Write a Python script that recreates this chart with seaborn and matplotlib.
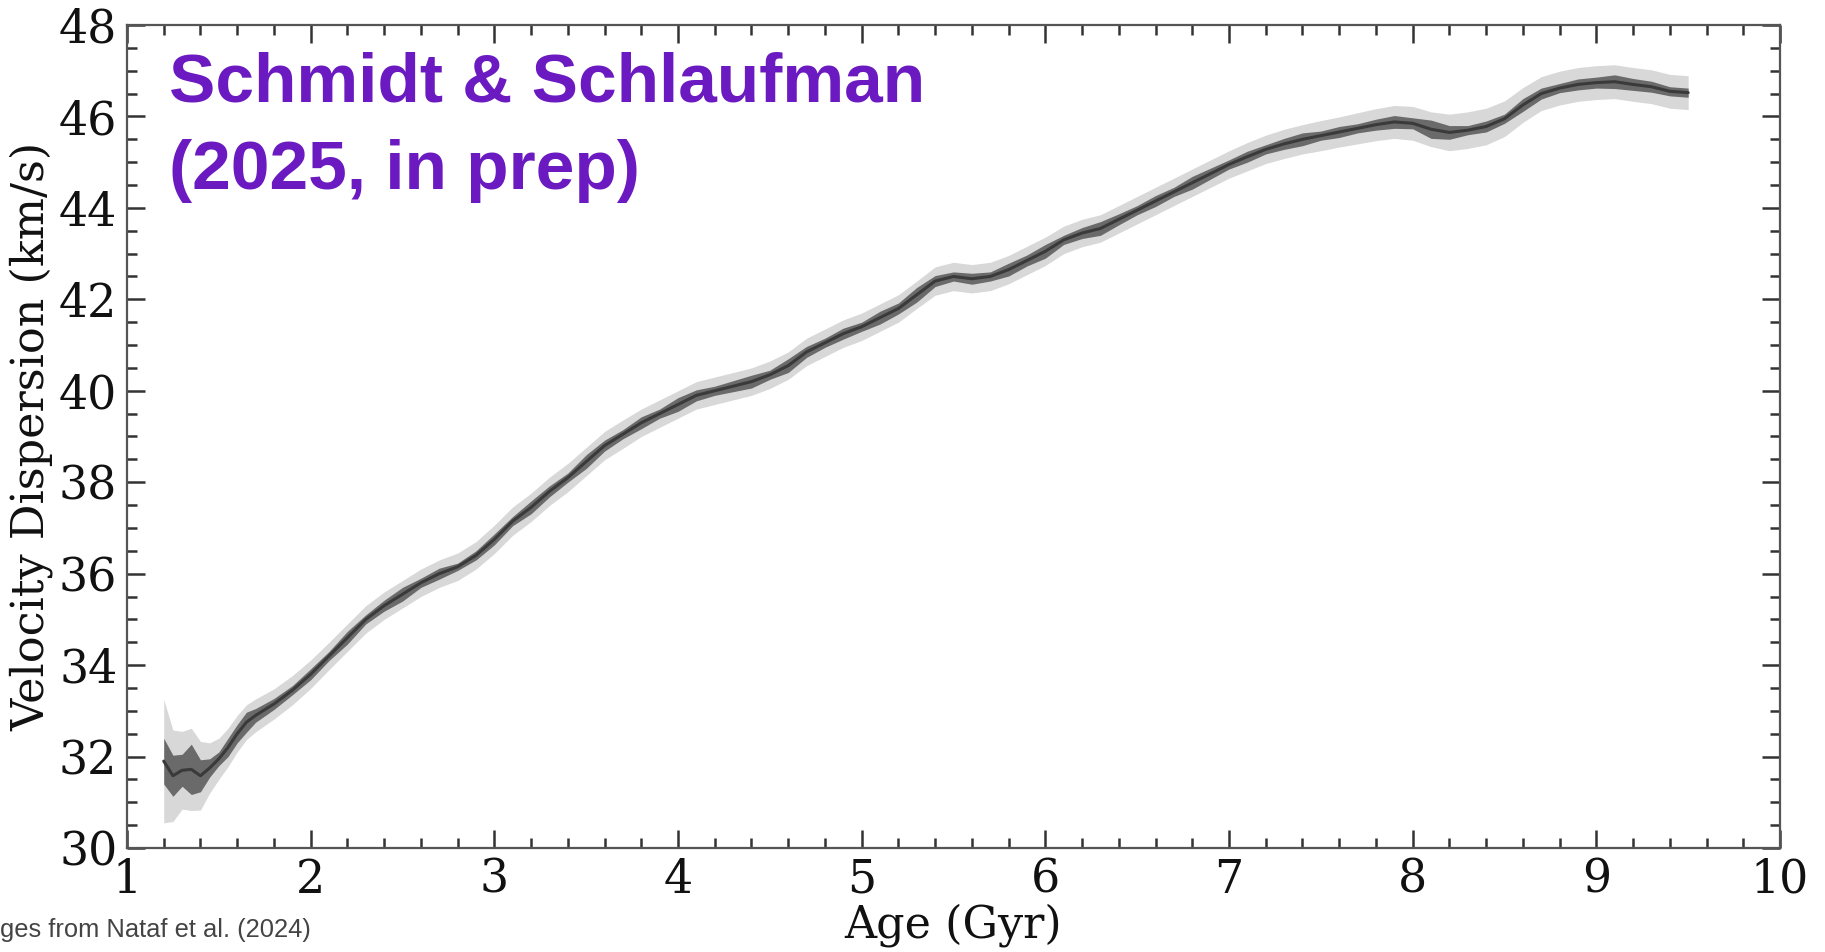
import numpy as np
import matplotlib
matplotlib.use("Agg")
import matplotlib.pyplot as plt
from matplotlib.ticker import MultipleLocator
import seaborn as sns

# ---------------- data ----------------
ages = [1.2, 1.25, 1.3, 1.35, 1.4, 1.45, 1.5, 1.55, 1.6, 1.65,
        1.7, 1.8, 1.9, 2.0, 2.1, 2.2, 2.3, 2.4, 2.5, 2.6,
        2.7, 2.8, 2.9, 3.0, 3.1, 3.2, 3.3, 3.4, 3.5, 3.6,
        3.7, 3.8, 3.9, 4.0, 4.1, 4.2, 4.3, 4.4, 4.5, 4.6,
        4.7, 4.8, 4.9, 5.0, 5.1, 5.2, 5.3, 5.4, 5.5, 5.6,
        5.7, 5.8, 5.9, 6.0, 6.1, 6.2, 6.3, 6.4, 6.5, 6.6,
        6.7, 6.8, 6.9, 7.0, 7.1, 7.2, 7.3, 7.4, 7.5, 7.6,
        7.7, 7.8, 7.9, 8.0, 8.1, 8.2, 8.3, 8.4, 8.5, 8.6,
        8.7, 8.8, 8.9, 9.0, 9.1, 9.2, 9.3, 9.4, 9.5]

velocity = [31.9, 31.58, 31.7, 31.72, 31.58, 31.75, 31.95, 32.2, 32.5, 32.75,
            32.9, 33.15, 33.45, 33.8, 34.2, 34.6, 35.0, 35.3, 35.55, 35.8,
            36.0, 36.15, 36.4, 36.75, 37.15, 37.45, 37.8, 38.1, 38.45, 38.8,
            39.05, 39.3, 39.5, 39.7, 39.9, 40.0, 40.1, 40.2, 40.35, 40.55,
            40.85, 41.05, 41.25, 41.4, 41.6, 41.8, 42.1, 42.4, 42.5, 42.45,
            42.5, 42.65, 42.85, 43.05, 43.3, 43.45, 43.55, 43.75, 43.95, 44.15,
            44.35, 44.55, 44.75, 44.95, 45.12, 45.28, 45.4, 45.5, 45.58, 45.66,
            45.74, 45.82, 45.88, 45.85, 45.72, 45.65, 45.7, 45.78, 45.95, 46.25,
            46.5, 46.62, 46.7, 46.74, 46.76, 46.7, 46.65, 46.55, 46.52]

dark_err = [0.5, 0.45, 0.35, 0.55, 0.35, 0.2, 0.15, 0.2, 0.2, 0.22,
            0.15, 0.12, 0.1, 0.12, 0.1, 0.14, 0.1, 0.12, 0.15, 0.1,
            0.12, 0.08, 0.1, 0.12, 0.1, 0.14, 0.12, 0.1, 0.15, 0.12,
            0.1, 0.13, 0.1, 0.15, 0.12, 0.1, 0.12, 0.14, 0.1, 0.15,
            0.12, 0.1, 0.12, 0.1, 0.14, 0.12, 0.16, 0.12, 0.1, 0.12,
            0.1, 0.14, 0.12, 0.15, 0.1, 0.12, 0.15, 0.12, 0.1, 0.12,
            0.1, 0.14, 0.12, 0.1, 0.12, 0.1, 0.12, 0.14, 0.1, 0.12,
            0.1, 0.12, 0.14, 0.12, 0.2, 0.15, 0.1, 0.12, 0.1, 0.14,
            0.12, 0.1, 0.12, 0.12, 0.15, 0.13, 0.12, 0.1, 0.1]

light_err = [1.35, 1.0, 0.85, 0.9, 0.75, 0.55, 0.45, 0.42, 0.4, 0.38,
             0.36, 0.33, 0.32, 0.31, 0.3, 0.3, 0.3, 0.3, 0.3, 0.3,
             0.3, 0.3, 0.3, 0.31, 0.31, 0.31, 0.31, 0.31, 0.31, 0.31,
             0.31, 0.3, 0.3, 0.3, 0.3, 0.3, 0.3, 0.3, 0.3, 0.3,
             0.3, 0.3, 0.3, 0.3, 0.3, 0.3, 0.3, 0.31, 0.31, 0.31,
             0.31, 0.31, 0.31, 0.31, 0.3, 0.3, 0.3, 0.3, 0.3, 0.3,
             0.3, 0.3, 0.3, 0.3, 0.31, 0.31, 0.32, 0.32, 0.33, 0.33,
             0.34, 0.35, 0.36, 0.37, 0.38, 0.4, 0.4, 0.4, 0.39, 0.38,
             0.37, 0.37, 0.37, 0.37, 0.37, 0.37, 0.37, 0.37, 0.37]

x_ticks = [1, 2, 3, 4, 5, 6, 7, 8, 9, 10]
y_ticks = [30, 32, 34, 36, 38, 40, 42, 44, 46, 48]

title_lines = ["Schmidt & Schlaufman", "(2025, in prep)"]
caption = "ges from Nataf et al. (2024)"
x_label = "Age (Gyr)"
y_label = "Velocity Dispersion (km/s)"

# ---------------- plot ----------------
sns.set_style("ticks")
plt.rcParams["font.family"] = ["DejaVu Serif", "DejaVu Sans"]

W, H = 1825, 952
fig = plt.figure(figsize=(W / 100, H / 100), dpi=100)
left, right, top, bottom = 127, 1780, 25, 848
ax = fig.add_axes([left / W, 1 - bottom / H, (right - left) / W, (bottom - top) / H])

a = np.array(ages)
v = np.array(velocity)
de = np.array(dark_err)
le = np.array(light_err)

ax.fill_between(a, v - le, v + le, color="#d8d8d8", lw=0, zorder=1)
ax.fill_between(a, v - de, v + de, color="#6a6a6a", lw=0, zorder=2)
sns.lineplot(x=a, y=v, ax=ax, color="#3a3a3a", lw=2.2, zorder=3)

ax.set_xlim(1, 10)
ax.set_ylim(30, 48)
ax.set_xticks(x_ticks)
ax.set_yticks(y_ticks)
ax.xaxis.set_minor_locator(MultipleLocator(0.2))
ax.yaxis.set_minor_locator(MultipleLocator(0.5))
ax.tick_params(which="both", direction="in", top=True, right=True,
               color="#333333", width=1.8, labelsize=33, labelcolor="#111111")
ax.tick_params(which="major", length=13)
ax.tick_params(which="minor", length=7)
ax.tick_params(axis="y", which="major", pad=7)
ax.tick_params(axis="x", which="major", pad=7)
for sp in ax.spines.values():
    sp.set_color("#555555")
    sp.set_linewidth(1.6)

ax.set_xlabel(x_label, fontsize=32, color="#111111", labelpad=0)
ax.set_ylabel(y_label, fontsize=32, color="#111111", labelpad=4)

purple = "#6b19c0"
fig.text(169 / W, 1 - 102 / H, title_lines[0], fontsize=50, fontweight="bold",
         color=purple, family=["Liberation Sans", "DejaVu Sans"], va="baseline")
fig.text(169 / W, 1 - 189 / H, title_lines[1], fontsize=50, fontweight="bold",
         color=purple, family=["Liberation Sans", "DejaVu Sans"], va="baseline")
fig.text(0.0, 1 - 937 / H, caption, fontsize=18.4, color="#444444",
         family=["Liberation Sans", "DejaVu Sans"], va="baseline", ha="left")

fig.savefig("out.png", dpi=100)
